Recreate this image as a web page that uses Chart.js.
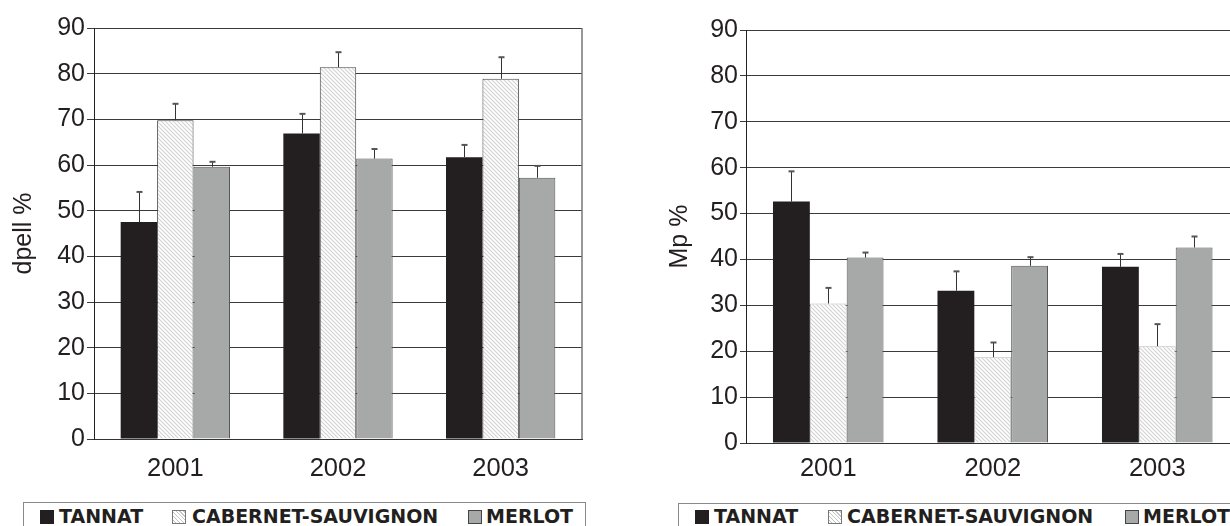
<!DOCTYPE html>
<html>
<head>
<meta charset="utf-8">
<script src="https://cdn.jsdelivr.net/npm/chart.js@4/dist/chart.umd.min.js"></script>
<style>
  html, body { margin: 0; padding: 0; background: #fff; overflow: hidden; width: 1230px; height: 526px; }
  #wrap { position: relative; width: 1230px; height: 526px; overflow: hidden; }
  canvas { position: absolute; top: 0; }
  #left { left: 0; }
  #right { left: 640px; }
  .frame { position: absolute; border: 1px solid #8a8a8a; height: 60px; }
  .item { position: absolute; top: 507px; font: bold 19px "DejaVu Sans", Verdana, sans-serif; color: #231f20; line-height: 18px; white-space: nowrap; }
  .sw { position: absolute; width: 14px; height: 14px; top: 3px; box-sizing: border-box; }
  .sw.t { background: #231f20; }
  .sw.c { border: 1px solid #777; background: repeating-linear-gradient(45deg, #fff 0 1.5px, #c4c4c4 1.5px 2.8px); }
  .sw.m { border: 1px solid #444; background: #a7a9a8; }
</style>
</head>
<body>
<div id="wrap">
  <canvas id="left" width="615" height="495"></canvas>
  <canvas id="right" width="610" height="495"></canvas>

  <div class="frame" style="left:23px; top:502px; width:561px;"></div>
  <div class="item" style="left:40px;"><span class="sw t"></span><span style="margin-left:19px">TANNAT</span></div>
  <div class="item" style="left:172px;"><span class="sw c"></span><span style="margin-left:20px">CABERNET-SAUVIGNON</span></div>
  <div class="item" style="left:468px;"><span class="sw m"></span><span style="margin-left:18px">MERLOT</span></div>

  <div class="frame" style="left:678px; top:503px; width:600px;"></div>
  <div class="item" style="left:695px;"><span class="sw t"></span><span style="margin-left:19px">TANNAT</span></div>
  <div class="item" style="left:828px;"><span class="sw c"></span><span style="margin-left:19px">CABERNET-SAUVIGNON</span></div>
  <div class="item" style="left:1125px;"><span class="sw m"></span><span style="margin-left:18px">MERLOT</span></div>
</div>
<script>
// categories
const years = ['2001', '2002', '2003'];
const varieties = ['TANNAT', 'CABERNET-SAUVIGNON', 'MERLOT'];

// dpell % (left chart) and its error bars
const dpellTannat = [47.5, 66.9, 61.7];
const dpellCabernet = [69.8, 81.4, 78.9];
const dpellMerlot = [59.6, 61.4, 57.2];
const dpellTannatErr = [6.6, 4.3, 2.7];
const dpellCabernetErr = [3.6, 3.3, 4.7];
const dpellMerlotErr = [1.1, 2.1, 2.6];

// Mp % (right chart) and its error bars
const mpTannat = [52.6, 33.2, 38.4];
const mpCabernet = [30.4, 18.7, 21.1];
const mpMerlot = [40.4, 38.6, 42.6];
const mpTannatErr = [6.6, 4.2, 2.8];
const mpCabernetErr = [3.4, 3.2, 4.8];
const mpMerlotErr = [1.1, 1.9, 2.4];

const yTicks = [0, 10, 20, 30, 40, 50, 60, 70, 80, 90];

// diagonal hatch for cabernet bars
function hatch() {
    const c = document.createElement('canvas');
    c.width = 4; c.height = 4;
    const g = c.getContext('2d');
    g.fillStyle = '#fff';
    g.fillRect(0, 0, 4, 4);
    g.strokeStyle = '#d2d2d2';
    g.lineWidth = 1.1;
    g.beginPath();
    g.moveTo(-1, -1); g.lineTo(5, 5);
    g.moveTo(-1, 3); g.lineTo(1, 5);
    g.moveTo(3, -1); g.lineTo(5, 1);
    g.stroke();
    return g.createPattern(c, 'repeat');
}

const errorBars = {
    id: 'errorBars',
    afterDatasetsDraw(chart) {
        const ctx = chart.ctx;
        const y = chart.scales.y;
        chart.data.datasets.forEach((ds, i) => {
            const meta = chart.getDatasetMeta(i);
            meta.data.forEach((bar, j) => {
                const top = y.getPixelForValue(ds.data[j] + ds.err[j]);
                const x = Math.round(bar.x) + 0.5;
                ctx.save();
                ctx.strokeStyle = '#333';
                ctx.lineWidth = 1;
                ctx.beginPath();
                ctx.moveTo(x, bar.y);
                ctx.lineTo(x, top);
                ctx.stroke();
                ctx.strokeStyle = '#555';
                ctx.lineWidth = 2;
                ctx.beginPath();
                ctx.moveTo(x - 3, top);
                ctx.lineTo(x + 3, top);
                ctx.stroke();
                ctx.restore();
            });
        });
    }
};

const frameBorder = {
    id: 'frameBorder',
    afterDraw(chart) {
        const a = chart.chartArea;
        const ctx = chart.ctx;
        ctx.save();
        ctx.strokeStyle = '#777';
        ctx.lineWidth = 1.5;
        ctx.beginPath();
        ctx.moveTo(a.right, a.top);
        ctx.lineTo(a.right, a.bottom);
        ctx.stroke();
        ctx.restore();
    }
};

function makeChart(id, title, t, c, m, tErr, cErr, mErr, geo) {
    const pat = hatch();
    return new Chart(document.getElementById(id), {
        type: 'bar',
        data: {
            labels: years,
            datasets: [
                { label: varieties[0], data: t, err: tErr, backgroundColor: '#231f20', borderWidth: 0 },
                { label: varieties[1], data: c, err: cErr, backgroundColor: pat, borderColor: geo.cabBorder, borderWidth: 1 },
                { label: varieties[2], data: m, err: mErr, backgroundColor: '#a7a9a8', borderColor: '#555', borderWidth: 1 }
            ]
        },
        options: {
            responsive: false,
            animation: false,
            layout: { padding: { left: 0, right: geo.padRight, top: geo.top, bottom: 0 } },
            plugins: { legend: { display: false }, tooltip: { enabled: false } },
            datasets: { bar: { barPercentage: 1, categoryPercentage: 0.672 } },
            scales: {
                x: {
                    grid: { display: true, drawOnChartArea: false, drawTicks: false },
                    border: { display: true, color: '#333', width: 1 },
                    ticks: { color: '#231f20', padding: geo.xPad, font: { family: 'Liberation Sans', size: 25.5 } },
                    afterFit(s) { s.height = geo.xHeight; }
                },
                y: {
                    min: 0, max: 90,
                    afterBuildTicks(s) { s.ticks = yTicks.map(v => ({ value: v })); },
                    grid: { color: '#3a3a3a', lineWidth: 1, tickLength: geo.tickLen },
                    border: { display: true, color: '#222', width: 1 },
                    ticks: { color: '#231f20', padding: 2, font: { family: 'Liberation Sans', size: 25 } },
                    title: { display: true, text: title, color: '#231f20', padding: { top: geo.titlePad, bottom: 0 }, font: { family: 'Liberation Sans', size: 25 } },
                    afterFit(s) { s.width = geo.yWidth; }
                }
            }
        },
        plugins: [errorBars, frameBorder]
    });
}

makeChart('left', 'dpell %', dpellTannat, dpellCabernet, dpellMerlot, dpellTannatErr, dpellCabernetErr, dpellMerlotErr,
    { padRight: 33, top: 28, xHeight: 56, xPad: 15, yWidth: 94, tickLen: 7, titlePad: 9, cabBorder: '#444' });
makeChart('right', 'Mp %', mpTannat, mpCabernet, mpMerlot, mpTannatErr, mpCabernetErr, mpMerlotErr,
    { padRight: 10.5, top: 30, xHeight: 52, xPad: 11, yWidth: 106, tickLen: 6, titlePad: 25, cabBorder: '#bbb' });
</script>
</body>
</html>
